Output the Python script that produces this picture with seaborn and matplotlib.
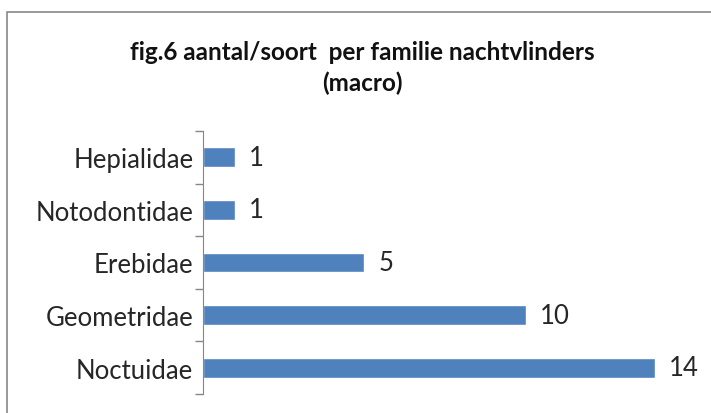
import pandas as pd
import seaborn as sns
import matplotlib.pyplot as plt
from matplotlib.patches import Rectangle

# data
families = ['Hepialidae', 'Notodontidae', 'Erebidae', 'Geometridae', 'Noctuidae']
counts = [1, 1, 5, 10, 14]

df = pd.DataFrame({'familie': families, 'aantal': counts})

sns.set_style("white")
plt.rcParams['font.family'] = ['Lato', 'DejaVu Sans']

fig = plt.figure(figsize=(7.11, 4.14), dpi=100)
ax = fig.add_axes([203/711, 19/414, 508/711, 263/414])

sns.barplot(data=df, x='aantal', y='familie', color='#4F81BD', width=0.38,
            saturation=1, ax=ax, orient='h')

ax.set_xlim(0, 508/32.3)
ax.set_ylim(4.5, -0.5)
ax.set_xlabel('')
ax.set_ylabel('')
ax.set_xticks([])

# ticks sit between categories, like the original
ax.set_yticks(range(len(families)))
ax.set_yticklabels(families, fontsize=18.5, color='#262626')
ax.tick_params(axis='y', which='major', left=False, length=0, pad=7)
ax.set_yticks([i - 0.5 for i in range(len(families) + 1)], minor=True)
ax.tick_params(axis='y', which='minor', left=True, length=6,
               color='#868686', width=1)

for s in ['top', 'right', 'bottom']:
    ax.spines[s].set_visible(False)
ax.spines['left'].set_color('#868686')

ax.bar_label(ax.containers[0], padding=10, fontsize=18.5, color='#262626')

fig.text(0.509, 0.836, 'fig.6 aantal/soort  per familie nachtvlinders\n(macro)',
         ha='center', va='center', fontsize=17.5, fontweight='bold',
         linespacing=1.4, color='#111111')

# chart frame
fig.patches.append(Rectangle((7/711, -0.1), 1.2, (414 - 13)/414 + 0.1,
                             transform=fig.transFigure, fill=False,
                             edgecolor='#888888', linewidth=1.2))

fig.savefig('out.png', dpi=100)
